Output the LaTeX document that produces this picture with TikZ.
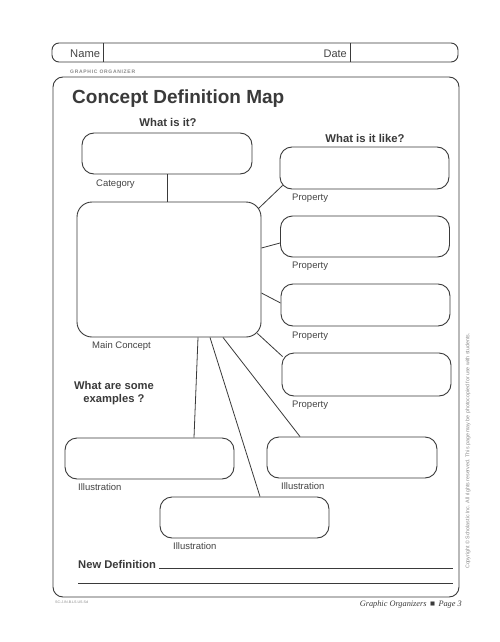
\documentclass[tikz,border=0pt]{standalone}
\usepackage{fontspec}
\setmainfont{Liberation Sans}
\newfontfamily\footserif{Liberation Serif}
\usetikzlibrary{calc}
\definecolor{ink}{HTML}{3A3A3A}
\definecolor{txt}{HTML}{444444}
\definecolor{faint}{HTML}{8A8A8A}
\tikzset{
  boxsm/.style={draw=ink, line width=0.9pt, rounded corners=12pt, rectangle, inner sep=0pt, minimum width=169pt, minimum height=41pt},
  conn/.style={draw=ink, line width=0.8pt},
  lbl/.style={anchor=base west, inner sep=0pt, text=txt, font=\fontsize{9.5}{11}\selectfont},
  head/.style={inner sep=0pt, text=ink, font=\fontsize{11.3}{13}\selectfont\bfseries},
}
\begin{document}
\begin{tikzpicture}[x=1pt,y=-1pt]
\useasboundingbox[fill=white] (0,0) rectangle (500,642);

% header strip
\draw[draw=ink, line width=0.9pt, rounded corners=7pt] (52,43) rectangle (458,62);
\node (namediv) [coordinate] at (103,43) {};
\node (datediv) [coordinate] at (350,43) {};
\draw[ink, line width=0.8pt] (namediv) -- ++(0,19);
\draw[ink, line width=0.8pt] (datediv) -- ++(0,19);
\node (namet) [anchor=base west, inner sep=0pt, text=txt, font=\fontsize{11.2}{13}\selectfont] at (70,58) {Name};
\node (datet) [anchor=base east, inner sep=0pt, text=txt, font=\fontsize{11}{13}\selectfont] at (347,58) {Date};
\node (go) [anchor=base west, inner sep=0pt, text=faint, font=\fontsize{5}{6}\selectfont\bfseries\addfontfeature{LetterSpace=14}] at (70,74) {GRAPHIC ORGANIZER};

% main frame
\draw[draw=ink, line width=0.9pt, rounded corners=10pt] (53,77) rectangle (459,597);

% title
\node (title) [anchor=base west, inner sep=0pt, text=ink, font=\fontsize{19}{22}\selectfont\bfseries] at (72,103) {Concept Definition Map};

% headings
\node (whatis) [head, anchor=base] at (168,126) {What is it?};
\node (whatlike) [head, anchor=base] at (365,142) {What is it like?};
\node (examples) [head, anchor=base, align=center, font=\fontsize{11.2}{13}\selectfont\bfseries] at (114,402) {What are some\\ examples ?};

% boxes
\node (cat) [boxsm, minimum width=170pt] at (167,153.5) {};
\node (main) [boxsm, rounded corners=15pt, minimum width=184pt, minimum height=135pt] at (169,269.5) {};
\node (p1) [boxsm, minimum height=42pt] at (364.5,168) {};
\node (p2) [boxsm] at (365,236.5) {};
\node (p3) [boxsm, minimum height=42pt] at (365.5,305) {};
\node (p4) [boxsm, minimum height=43pt] at (366.5,374.5) {};
\node (i1) [boxsm] at (149.5,458.5) {};
\node (i2) [boxsm, minimum width=170pt] at (352,457.5) {};
\node (i3) [boxsm] at (244.5,517.5) {};

% labels
\node (lcat) [lbl] at (96,186.5) {Category};
\node (lmain) [lbl] at (92,348.5) {Main Concept};
\node (lp1) [lbl] at (292,200.5) {Property};
\node (lp2) [lbl] at (292,268.5) {Property};
\node (lp3) [lbl] at (292,338.5) {Property};
\node (lp4) [lbl] at (292,407.5) {Property};
\node (li1) [lbl] at (78,490.5) {Illustration};
\node (li2) [lbl] at (281,489.5) {Illustration};
\node (li3) [lbl] at (173,549.5) {Illustration};

% connectors
\draw[conn] (cat.south) -- (cat.south |- main.north);
\draw[conn] ([shift={(-3,7)}]main.north east) -- ([shift={(3,-4)}]p1.south west);
\draw[conn] ([shift={(0,-21.5)}]main.east) -- ([shift={(0,6.5)}]p2.west);
\draw[conn] ([shift={(0,23.5)}]main.east) -- ([shift={(0,-2)}]p3.west);
\draw[conn] ([shift={(-4,-4)}]main.south east) -- ([shift={(1,4)}]p4.north west);
\draw[conn] ([shift={(29,0)}]main.south) -- ([shift={(44.5,0)}]i1.north);
\draw[conn] ([shift={(41,0)}]main.south) -- ([shift={(15.5,0)}]i3.north);
\draw[conn] ([shift={(54,0)}]main.south) -- ([shift={(-52,0)}]i2.north);

% new definition
\node (newdef) [head, anchor=base west, font=\fontsize{11.2}{13}\selectfont\bfseries] at (78,568) {New Definition};
\node (nd1a) [coordinate] at (159,568) {};
\node (nd1b) [coordinate] at (453,568) {};
\node (nd2a) [coordinate] at (78,583) {};
\node (nd2b) [coordinate] at (453,583) {};
\draw[ink, line width=0.8pt] (nd1a) -- (nd1b);
\draw[ink, line width=0.8pt] (nd2a) -- (nd2b);

% footer
\node (footr) [anchor=base east, inner sep=0pt, text=ink, font=\fontsize{8.3}{10}\footserif\itshape] at (462,606) {Graphic Organizers \,{\upshape ■}\, Page 3};
\node (footl) [anchor=base west, inner sep=0pt, text=faint, font=\fontsize{3.6}{4}\selectfont] at (55,603) {SC-J.IN.B.LS.US.Sd};

% copyright
\node (copy) [rotate=90, inner sep=0pt, text=faint, font=\fontsize{5.3}{6}\selectfont] at (468,451) {Copyright \copyright\ Scholastic Inc. All rights reserved. This page may be photocopied for use with students.};
\end{tikzpicture}
\end{document}
